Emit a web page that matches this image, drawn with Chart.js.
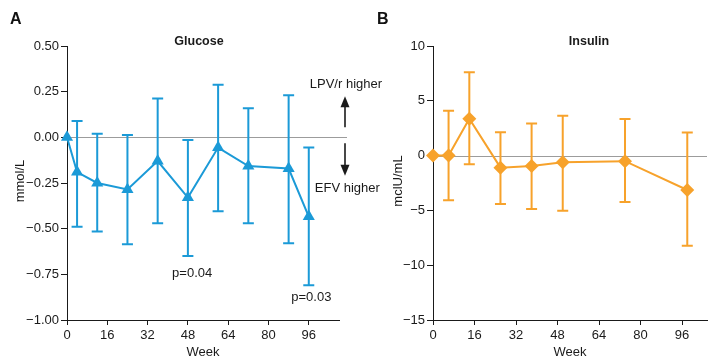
<!DOCTYPE html>
<html>
<head>
<meta charset="utf-8">
<script src="https://cdn.jsdelivr.net/npm/chart.js@4"></script>
<style>
  body { margin: 0; background: #fff; }
  #wrap { position: relative; width: 714px; height: 358px; overflow: hidden; }
  .panel { position: absolute; top: 0; height: 358px; }
  .tag { position: absolute; top: 10px; font: bold 16px "Liberation Sans", Arial, sans-serif; color: #111; }
</style>
</head>
<body>
<div id="wrap">
  <div class="panel" style="left:0;width:400px"><canvas id="glucoseChart" width="400" height="358"></canvas></div>
  <div class="panel" style="left:357px;width:357px"><canvas id="insulinChart" width="357" height="358"></canvas></div>
  <div class="tag" style="left:10px">A</div>
  <div class="tag" style="left:377px">B</div>
</div>
<script>
// ── Data ─────────────────────────────────────────────────
const glucoseWeeks = [0, 4, 12, 24, 36, 48, 60, 72, 88, 96];
const glucoseMean  = [0, -0.19, -0.25, -0.285, -0.13, -0.33, -0.056, -0.157, -0.171, -0.434];
const glucoseUpper = [null, 0.09, 0.02, 0.013, 0.213, -0.015, 0.288, 0.159, 0.23, -0.056];
const glucoseLower = [null, -0.49, -0.515, -0.585, -0.47, -0.65, -0.405, -0.47, -0.58, -0.81];

const insulinWeeks = [0, 6, 14, 26, 38, 50, 74, 98];
const insulinMean  = [0, 0, 3.36, -1.1, -0.94, -0.6, -0.51, -3.14];
const insulinUpper = [null, 4.09, 7.6, 2.14, 2.93, 3.63, 3.33, 2.1];
const insulinLower = [null, -4.08, -0.79, -4.42, -4.88, -5.03, -4.24, -8.23];

const weekTicks = [0, 16, 32, 48, 64, 80, 96];

const FONT = '"Liberation Sans", Arial, sans-serif';
const BLUE = '#1b9ad7';
const ORANGE = '#f7a22b';
const INK = '#1a1a1a';

// ── Decorations: zero line, error bars, texts ─────────────
const panelDeco = {
    id: 'panelDeco',
    beforeDatasetsDraw(chart, args, o) {
        const { ctx, chartArea, scales: { x, y } } = chart;
        ctx.save();
        ctx.strokeStyle = '#9c9c9c'; ctx.lineWidth = 1;
        const y0 = Math.round(y.getPixelForValue(0)) + 0.5;
        ctx.beginPath(); ctx.moveTo(chartArea.left, y0); ctx.lineTo(chartArea.right + o.zeroExtend, y0); ctx.stroke();

        ctx.strokeStyle = o.color; ctx.lineWidth = 2;
        o.weeks.forEach((w, i) => {
            if (o.upper[i] == null) return;
            const px = x.getPixelForValue(w);
            const pt = y.getPixelForValue(o.upper[i]);
            const pb = y.getPixelForValue(o.lower[i]);
            ctx.beginPath();
            ctx.moveTo(px, pt); ctx.lineTo(px, pb);
            ctx.moveTo(px - 5.5, pt); ctx.lineTo(px + 5.5, pt);
            ctx.moveTo(px - 5.5, pb); ctx.lineTo(px + 5.5, pb);
            ctx.stroke();
        });
        ctx.restore();
    },
    afterDraw(chart, args, o) {
        const { ctx, chartArea, scales: { x, y } } = chart;
        ctx.save();
        ctx.fillStyle = INK;
        ctx.textAlign = 'center'; ctx.textBaseline = 'middle';
        ctx.font = 'bold 12.5px ' + FONT;
        ctx.fillText(o.title, o.titleX, 42);
        ctx.font = '13px ' + FONT;
        ctx.fillText('Week', (chartArea.left + chartArea.right) / 2, 352);
        ctx.save();
        ctx.translate(o.yTitleX, (chartArea.top + chartArea.bottom) / 2 - 2);
        ctx.rotate(-Math.PI / 2);
        ctx.fillText(o.yTitle, 0, 0);
        ctx.restore();

        (o.notes || []).forEach(n => {
            ctx.textAlign = n.align || 'center';
            ctx.fillText(n.text, x.getPixelForValue(n.x), y.getPixelForValue(n.y));
        });

        (o.arrows || []).forEach(a => {
            const ax = chartArea.right + a.dx;
            const y1 = y.getPixelForValue(a.from), y2 = y.getPixelForValue(a.to);
            const dir = y2 < y1 ? -1 : 1;
            ctx.strokeStyle = INK; ctx.lineWidth = 1.6;
            ctx.beginPath(); ctx.moveTo(ax, y1); ctx.lineTo(ax, y2 - dir * 10); ctx.stroke();
            ctx.beginPath();
            ctx.moveTo(ax, y2); ctx.lineTo(ax - 4.5, y2 - dir * 11); ctx.lineTo(ax + 4.5, y2 - dir * 11);
            ctx.closePath(); ctx.fill();
        });
        ctx.restore();
    },
};

function axisTicks() {
    return { color: INK, font: { family: FONT, size: 13 } };
}

function makeChart(id, cfg) {
    return new Chart(document.getElementById(id), {
        type: 'scatter',
        data: {
            datasets: [{
                data: cfg.weeks.map((w, i) => ({ x: w, y: cfg.mean[i] })),
                showLine: true,
                borderColor: cfg.color,
                backgroundColor: cfg.color,
                borderWidth: 2,
                pointStyle: cfg.pointStyle,
                pointRadius: cfg.pointRadius,
                pointBorderWidth: 0,
                clip: false,
            }],
        },
        plugins: [panelDeco],
        options: {
            responsive: false,
            animation: false,
            layout: { padding: { left: 0, right: cfg.padRight, top: 46, bottom: 0 } },
            plugins: {
                legend: { display: false },
                tooltip: { enabled: false },
                panelDeco: {
                    color: cfg.color, weeks: cfg.weeks, upper: cfg.upper, lower: cfg.lower,
                    zeroExtend: cfg.zeroExtend, title: cfg.title, titleX: cfg.titleX,
                    yTitle: cfg.yTitle, yTitleX: cfg.yTitleX, notes: cfg.notes, arrows: cfg.arrows,
                },
            },
            scales: {
                x: {
                    type: 'linear', min: 0, max: cfg.xMax,
                    afterFit: s => { s.height = 38; },
                    afterBuildTicks: s => { s.ticks = weekTicks.map(v => ({ value: v })); },
                    border: { display: true, color: INK, width: 1 },
                    grid: { drawOnChartArea: false, drawTicks: true, tickLength: 5, color: INK },
                    ticks: { ...axisTicks(), padding: 3, maxRotation: 0 },
                },
                y: {
                    min: cfg.yMin, max: cfg.yMax,
                    afterFit: s => { s.width = cfg.yWidth; },
                    border: { display: true, color: INK, width: 1 },
                    grid: { drawOnChartArea: false, drawTicks: true, tickLength: 6, color: INK },
                    ticks: { ...axisTicks(), padding: 2, stepSize: cfg.yStep, callback: cfg.yFormat },
                },
            },
        },
    });
}

makeChart('glucoseChart', {
    weeks: glucoseWeeks, mean: glucoseMean, upper: glucoseUpper, lower: glucoseLower,
    color: BLUE, pointStyle: 'triangle', pointRadius: 7,
    xMax: 108, yMin: -1, yMax: 0.5, yStep: 0.25, yWidth: 67, padRight: 61, zeroExtend: 8,
    yFormat: v => v.toFixed(2).replace('-', '\u2212'),
    title: 'Glucose', titleX: 199, yTitle: 'mmol/L', yTitleX: 20,
    notes: [
        { text: 'LPV/r higher', x: 96.4, y: 0.29, align: 'left' },
        { text: 'EFV higher', x: 98.4, y: -0.28, align: 'left' },
        { text: 'p=0.04', x: 49.7, y: -0.744 },
        { text: 'p=0.03', x: 97, y: -0.875 },
    ],
    arrows: [
        { dx: 6, from: 0.055, to: 0.225 },
        { dx: 6, from: -0.033, to: -0.21 },
    ],
});

makeChart('insulinChart', {
    weeks: insulinWeeks, mean: insulinMean, upper: insulinUpper, lower: insulinLower,
    color: ORANGE, pointStyle: 'rectRot', pointRadius: 7,
    xMax: 105.6, yMin: -15, yMax: 10, yStep: 5, yWidth: 76, padRight: 0, zeroExtend: 0,
    yFormat: v => String(v).replace('-', '\u2212'),
    title: 'Insulin', titleX: 232, yTitle: 'mclU/mL', yTitleX: 41,
});
</script>
</body>
</html>
